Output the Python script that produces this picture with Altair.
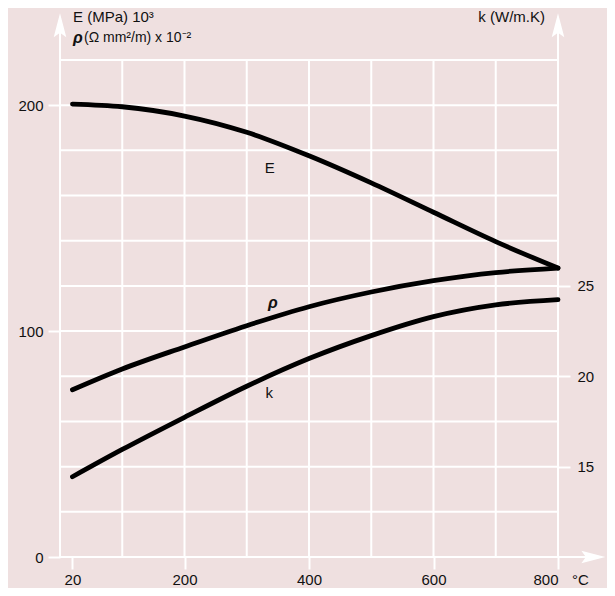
import altair as alt
import pandas as pd

# ---- data ----
temps = [20, 100, 200, 300, 400, 500, 600, 700, 800]
E_vals = [200.5, 199.3, 195.2, 188.0, 177.6, 165.6, 152.6, 139.6, 127.9]     # MPa x 10^3
rho_vals = [74.0, 83.2, 93.0, 102.4, 110.8, 117.3, 122.3, 125.9, 127.9]     # Ohm mm2/m x 10^-2
k_vals = [14.44, 15.95, 17.73, 19.45, 20.98, 22.25, 23.30, 23.95, 24.24]    # W/m.K

x_ticks = [20, 200, 400, 600, 800]
left_ticks = [0, 100, 200]
right_ticks = [15, 20, 25]
x_grid = [0, 100, 200, 300, 400, 500, 600, 700, 800]
y_grid = [0, 20, 40, 60, 80, 100, 120, 140, 160, 180, 200, 220]

X_DOMAIN = [0, 800]
Y_DOMAIN = [0, 220]
K_DOMAIN = [10, 37.5]
AXIS_TOP = 234      # top of the vertical axis lines (arrow centre)
AXIS_RIGHT = 852    # end of the horizontal axis line (arrow centre)

curve_label_names = ["E", "k"]
curve_label_x = [337, 336]
curve_label_y = [172, 72.5]
rho_label_x = [342]
rho_label_y = [112.5]

FONT = "Liberation Sans"
INK = "#111111"
BG = "#efe0e0"

xs = alt.Scale(domain=X_DOMAIN, nice=False, zero=False)
ys = alt.Scale(domain=Y_DOMAIN, nice=False)
ks = alt.Scale(domain=K_DOMAIN, nice=False, zero=False)

x_axis = alt.Axis(values=x_ticks, tickSize=12, tickColor="white", tickWidth=2,
                  domain=False, grid=False, labelFont=FONT, labelFontSize=15,
                  labelColor=INK, labelPadding=3, title=None, orient="bottom")
y_axis = alt.Axis(values=left_ticks, tickSize=12, tickColor="white", tickWidth=2,
                  domain=False, grid=False, labelFont=FONT, labelFontSize=15,
                  labelColor=INK, labelPadding=5, title=None, orient="left")
k_axis = alt.Axis(values=right_ticks, tickSize=12, tickColor="white", tickWidth=2,
                  domain=False, grid=False, labelFont=FONT, labelFontSize=15,
                  labelColor=INK, labelPadding=7, title=None, orient="right")


def X(field):
    return alt.X(field, scale=xs, axis=x_axis)


def Y(field):
    return alt.Y(field, scale=ys, axis=y_axis)


# grid / axis lines
vr = pd.DataFrame({
    "x": x_grid,
    "y": [0] * len(x_grid),
    "y2": [AXIS_TOP if v in (X_DOMAIN[0], X_DOMAIN[1]) else Y_DOMAIN[1] for v in x_grid],
})
hr = pd.DataFrame({
    "y": y_grid,
    "x": [0] * len(y_grid),
    "x2": [AXIS_RIGHT if v == 0 else X_DOMAIN[1] for v in y_grid],
})

vrules = alt.Chart(vr).mark_rule(color="white", strokeWidth=2).encode(
    x=X("x:Q"), y=Y("y:Q"), y2="y2:Q",
)
hrules = alt.Chart(hr).mark_rule(color="white", strokeWidth=2).encode(
    y=Y("y:Q"), x=X("x:Q"), x2="x2:Q",
)

up_arrows = alt.Chart(pd.DataFrame({"x": [X_DOMAIN[0], X_DOMAIN[1]], "y": [AXIS_TOP, AXIS_TOP]})).mark_point(
    shape="M0,-1L0.42,0.6L0,0.3L-0.42,0.6Z", filled=True, color="white", opacity=1, size=900
).encode(x=X("x:Q"), y=Y("y:Q"))

right_arrow = alt.Chart(pd.DataFrame({"x": [AXIS_RIGHT], "y": [0]})).mark_point(
    shape="M1,0L-0.6,0.42L-0.3,0L-0.6,-0.42Z", filled=True, color="white", opacity=1, size=900
).encode(x=X("x:Q"), y=Y("y:Q"))

# E and rho curves on the left scale
left_df = pd.DataFrame({
    "T": temps + temps,
    "v": E_vals + rho_vals,
    "s": ["E"] * len(temps) + ["rho"] * len(temps),
})
left_lines = alt.Chart(left_df).mark_line(
    color="black", strokeWidth=4.8, interpolate="monotone", strokeCap="round"
).encode(x=X("T:Q"), y=Y("v:Q"), detail="s:N")

curve_labels = alt.Chart(pd.DataFrame({
    "x": curve_label_x, "y": curve_label_y, "t": curve_label_names
})).mark_text(font=FONT, fontSize=15, color=INK).encode(
    x=X("x:Q"), y=Y("y:Q"), text="t:N"
)
rho_label = alt.Chart(pd.DataFrame({
    "x": rho_label_x, "y": rho_label_y, "t": ["ρ"]
})).mark_text(font=FONT, fontSize=16, fontWeight="bold", fontStyle="italic", color=INK).encode(
    x=X("x:Q"), y=Y("y:Q"), text="t:N"
)

# axis titles (placed in pixels relative to the plot area)
titles_left = alt.Chart(pd.DataFrame({"t": ["E (MPa) 10³"]})).mark_text(
    font=FONT, fontSize=15, color=INK, align="left", baseline="middle"
).encode(x=alt.value(13), y=alt.value(-43), text="t:N")
title_rho = alt.Chart(pd.DataFrame({"t": ["ρ"]})).mark_text(
    font=FONT, fontSize=16, fontWeight="bold", fontStyle="italic", color=INK,
    align="left", baseline="middle"
).encode(x=alt.value(13), y=alt.value(-22), text="t:N")
title_rho_rest = alt.Chart(pd.DataFrame({"t": ["(Ω mm²/m) x 10⁻²"]})).mark_text(
    font=FONT, fontSize=14, color=INK, align="left", baseline="middle"
).encode(x=alt.value(24), y=alt.value(-22), text="t:N")
title_k = alt.Chart(pd.DataFrame({"t": ["k (W/m.K)"]})).mark_text(
    font=FONT, fontSize=15, color=INK, align="right", baseline="middle"
).encode(x=alt.value(485), y=alt.value(-43), text="t:N")
title_x = alt.Chart(pd.DataFrame({"t": ["°C"]})).mark_text(
    font=FONT, fontSize=15, color=INK, align="left", baseline="middle"
).encode(x=alt.value(512), y=alt.value(520), text="t:N")

left_layer = alt.layer(
    vrules, hrules, up_arrows, right_arrow, left_lines, curve_labels, rho_label,
    titles_left, title_rho, title_rho_rest, title_k, title_x,
)

k_df = pd.DataFrame({"T": temps, "k": k_vals})
k_layer = alt.Chart(k_df).mark_line(
    color="black", strokeWidth=4.8, interpolate="monotone", strokeCap="round"
).encode(
    x=X("T:Q"),
    y=alt.Y("k:Q", scale=ks, axis=k_axis),
)

chart = alt.layer(left_layer, k_layer).resolve_scale(y="independent").properties(
    width=498, height=497,
    padding={"left": 52, "top": 52, "right": 49, "bottom": 31},
    autosize=alt.AutoSizeParams(type="none"),
).configure(background=BG).configure_view(strokeWidth=0)

chart.save("out.html", embed_options={"renderer": "svg", "actions": False})
